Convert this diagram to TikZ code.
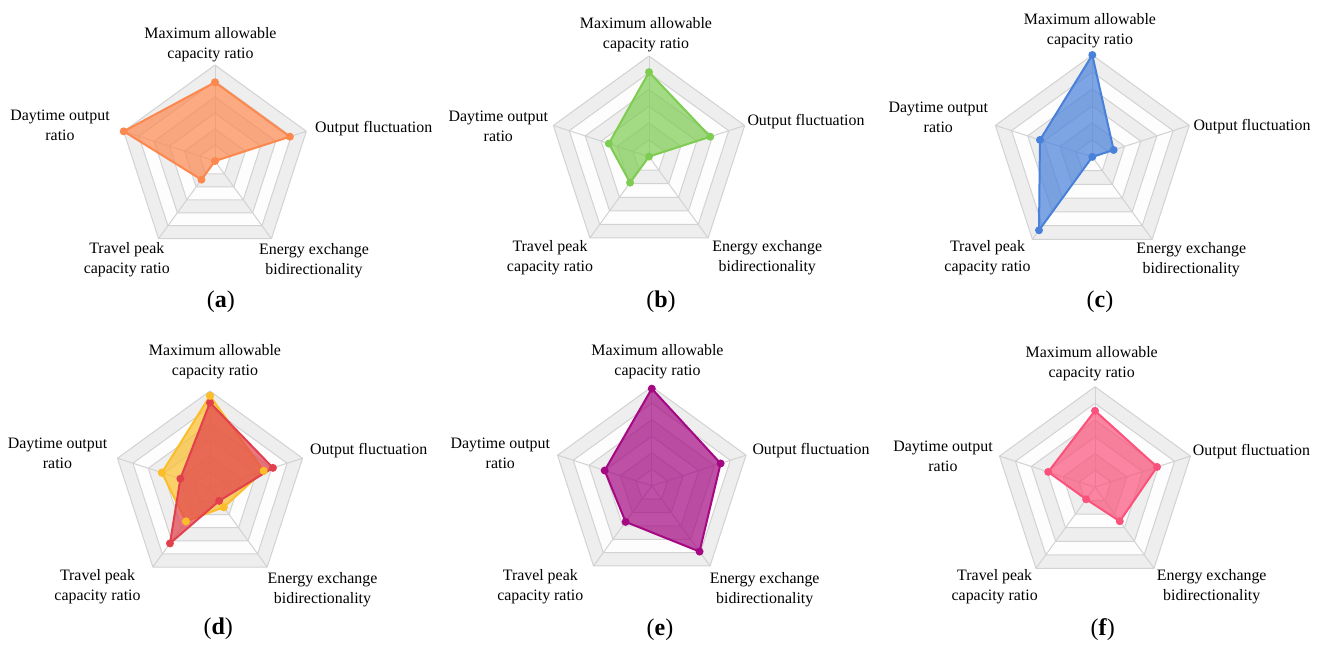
\documentclass[tikz,border=0pt]{standalone}
\usepackage{fontspec}
\setmainfont{Liberation Serif}
\usetikzlibrary{positioning}

\definecolor{bandgray}{RGB}{238,238,238}
\definecolor{bandlight}{RGB}{253,253,253}
\definecolor{gridgray}{RGB}{210,210,210}
\definecolor{orangeA}{RGB}{252,136,78}
\definecolor{greenB}{RGB}{126,204,82}
\definecolor{blueC}{RGB}{72,128,218}
\definecolor{yellowD}{RGB}{251,190,42}
\definecolor{redD}{RGB}{226,64,76}
\definecolor{purpleE}{RGB}{164,8,130}
\definecolor{pinkF}{RGB}{250,82,122}

% radar background: six alternating bands, outlines and spokes
\newcommand{\radargrid}[1]{%
  \foreach \k in {6,...,1} {
    \pgfmathtruncatemacro{\bandodd}{mod(\k,2)}
    \ifnum\bandodd=0 \def\bandcol{bandgray}\else\def\bandcol{bandlight}\fi
    \fill[fill=\bandcol] (90:{#1*\k/6}) -- (18:{#1*\k/6}) -- (-54:{#1*\k/6})
      -- (-126:{#1*\k/6}) -- (162:{#1*\k/6}) -- cycle;
  }
  \foreach \k in {1,...,6}
    \draw[gridln] (90:{#1*\k/6}) -- (18:{#1*\k/6}) -- (-54:{#1*\k/6})
      -- (-126:{#1*\k/6}) -- (162:{#1*\k/6}) -- cycle;
  \foreach \a in {90,18,-54,-126,162}
    \draw[gridln] (0,0) -- (\a:#1);
}

% one data series: name, colour, radius, five values
\newcommand{\radarseries}[4]{%
  \foreach \v [count=\i] in {#4} {
    \pgfmathsetmacro{\ang}{162-72*\i}
    \coordinate (#1-\i) at (\ang:{#3*\v});
  }
  \fill[#2, fill opacity=0.7] (#1-1) -- (#1-2) -- (#1-3) -- (#1-4) -- (#1-5) -- cycle;
  \draw[serline=#2] (#1-1) -- (#1-2) -- (#1-3) -- (#1-4) -- (#1-5) -- cycle;
  \foreach \i in {1,...,5}
    \fill[#2] (#1-\i) circle (4pt);
}

\begin{document}
\begin{tikzpicture}[
    x=1pt, y=-1pt,
    gridln/.style={draw=gridgray, line width=1pt, line join=round},
    serline/.style={draw=#1, line width=2pt, line join=round},
    lbl/.style={align=center, inner sep=0pt, font=\fontsize{15.9}{20}\selectfont},
    sublbl/.style={inner sep=0pt, font=\fontsize{24}{28}\selectfont}
]
\useasboundingbox[fill=white] (0,0) rectangle (1326,646);

% (a)
\begin{scope}[shift={(215,161)}, yscale=-1]
  \radargrid{96}
  \radarseries{a1}{orangeA}{96}{0.82,0.82,0,0.24,1.0}
\end{scope}
\node[lbl] (amax) at (210.5,44.2) {Maximum allowable\\capacity ratio};
\node[lbl, anchor=west] (aout) at (315,128.7) {Output fluctuation};
\node[lbl] (aday) at (60,125.5) {Daytime output\\ratio};
\node[lbl] (atrav) at (126.8,259.2) {Travel peak\\capacity ratio};
\node[lbl] (aener) at (314,260.2) {Energy exchange\\bidirectionality};
\node[sublbl] (capa) at (220.8,301.7) {(\textbf{a})};

% (b)
\begin{scope}[shift={(649,156.6)}, yscale=-1]
  \radargrid{100.6}
  \radarseries{b1}{greenB}{100.6}{0.84,0.64,0,0.32,0.42}
\end{scope}
\node[lbl] (bmax) at (646,34.3) {Maximum allowable\\capacity ratio};
\node[lbl, anchor=west] (bout) at (747.3,121.7) {Output fluctuation};
\node[lbl] (bday) at (498.3,126.7) {Daytime output\\ratio};
\node[lbl] (btrav) at (550,257.8) {Travel peak\\capacity ratio};
\node[lbl] (bener) at (767.3,257.8) {Energy exchange\\bidirectionality};
\node[sublbl] (capb) at (661,301.7) {(\textbf{b})};

% (c)
\begin{scope}[shift={(1092.3,156.9)}, yscale=-1]
  \radargrid{101.9}
  \radarseries{c1}{blueC}{101.9}{1.0,0.22,0,0.89,0.54}
\end{scope}
\node[lbl] (cmax) at (1090,30.8) {Maximum allowable\\capacity ratio};
\node[lbl, anchor=west] (cout) at (1193.3,127) {Output fluctuation};
\node[lbl] (cday) at (938.3,117.8) {Daytime output\\ratio};
\node[lbl] (ctrav) at (987.5,257.5) {Travel peak\\capacity ratio};
\node[lbl] (cener) at (1191.3,260) {Energy exchange\\bidirectionality};
\node[sublbl] (capc) at (1100,301.7) {(\textbf{c})};

% (d)
\begin{scope}[shift={(210,488.3)}, yscale=-1]
  \radargrid{97.3}
  \radarseries{d1}{yellowD}{97.3}{0.95,0.58,0.24,0.42,0.52}
  \radarseries{d2}{redD}{97.3}{0.88,0.68,0.16,0.70,0.32}
  \foreach \i in {1,...,5}
    \fill[yellowD] (d1-\i) circle (4pt);
\end{scope}
\node[lbl] (dmax) at (215,361.7) {Maximum allowable\\capacity ratio};
\node[lbl, anchor=west] (dout) at (310,450.7) {Output fluctuation};
\node[lbl] (dday) at (57.5,453.7) {Daytime output\\ratio};
\node[lbl] (dtrav) at (97.5,586.3) {Travel peak\\capacity ratio};
\node[lbl] (dener) at (322.5,589.7) {Energy exchange\\bidirectionality};
\node[sublbl] (capd) at (218.3,628.3) {(\textbf{d})};

% (e)
\begin{scope}[shift={(651.8,485.8)}, yscale=-1]
  \radargrid{99.1}
  \radarseries{e1}{purpleE}{99.1}{0.98,0.73,0.82,0.45,0.50}
\end{scope}
\node[lbl] (emax) at (657.5,361.7) {Maximum allowable\\capacity ratio};
\node[lbl, anchor=west] (eout) at (752.3,450.8) {Output fluctuation};
\node[lbl] (eday) at (500.3,453.7) {Daytime output\\ratio};
\node[lbl] (etrav) at (540.3,586.3) {Travel peak\\capacity ratio};
\node[lbl] (eener) at (764.7,589.7) {Energy exchange\\bidirectionality};
\node[sublbl] (cape) at (660,630) {(\textbf{e})};

% (f)
\begin{scope}[shift={(1095,487.1)}, yscale=-1]
  \radargrid{100.4}
  \radarseries{f1}{pinkF}{100.4}{0.76,0.65,0.42,0.15,0.49}
\end{scope}
\node[lbl] (fmax) at (1091.7,363.7) {Maximum allowable\\capacity ratio};
\node[lbl, anchor=west] (fout) at (1192.7,451.7) {Output fluctuation};
\node[lbl] (fday) at (943,456.7) {Daytime output\\ratio};
\node[lbl] (ftrav) at (994.7,586.7) {Travel peak\\capacity ratio};
\node[lbl] (fener) at (1211.7,587) {Energy exchange\\bidirectionality};
\node[sublbl] (capf) at (1102.7,630) {(\textbf{f})};
\end{tikzpicture}
\end{document}
